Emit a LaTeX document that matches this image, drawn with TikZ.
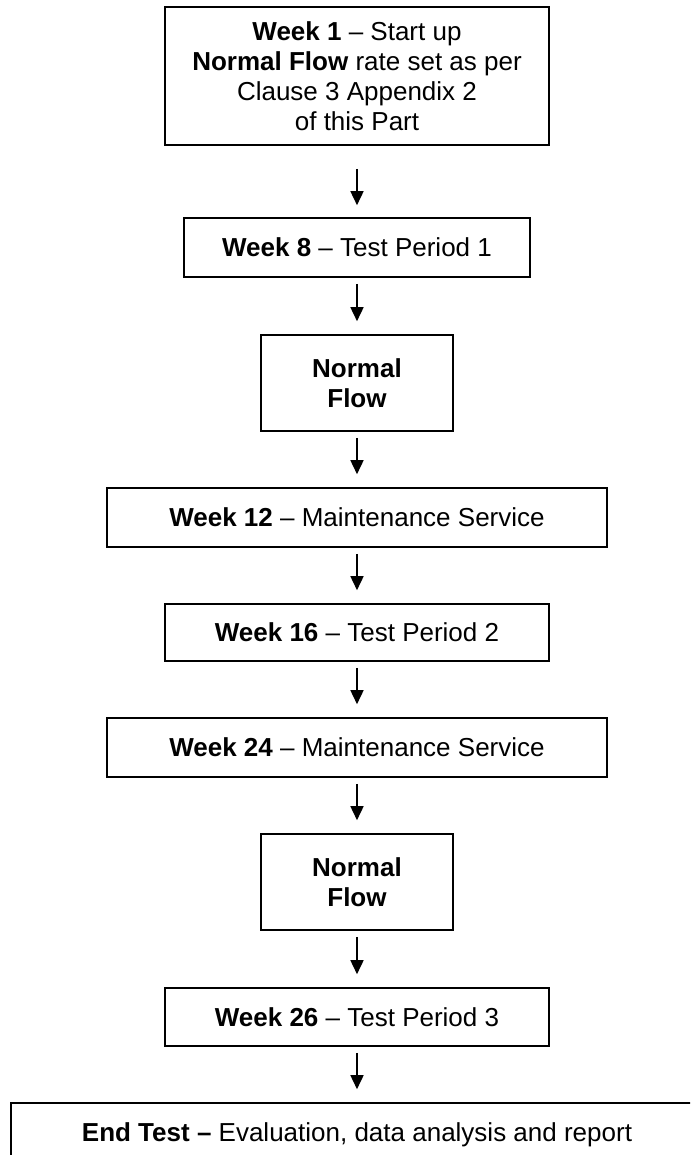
\documentclass[tikz,border=0pt]{standalone}
\usepackage{fontspec}
\setmainfont{Liberation Sans}
\usetikzlibrary{arrows.meta}
\begin{document}
\begin{tikzpicture}[x=1pt,y=-1pt,
  box/.style={draw=black, line width=1.6pt, inner sep=0pt, align=center,
    font=\fontsize{26}{30}\selectfont},
  arr/.style={line width=1.6pt, -{Triangle[width=13pt,length=14pt]},
    shorten <=6pt, shorten >=13pt}]
\useasboundingbox (0,0) rectangle (690,1155);
\clip (0,0) rectangle (690,1155);
\node[box, minimum width=384pt, minimum height=138pt] (w1) at (357,76)
  {\textbf{Week 1} – Start up\\ \textbf{Normal Flow} rate set as per\\ Clause 3 Appendix 2\\ of this Part};
\node[box, minimum width=346pt, minimum height=59pt] (w8) at (357,247.5)
  {\textbf{Week 8} – Test Period 1};
\node[box, minimum width=192pt, minimum height=96pt] (nf1) at (357,383)
  {\textbf{Normal}\\ \textbf{Flow}};
\node[box, minimum width=500pt, minimum height=59pt] (w12) at (357,517.5)
  {\textbf{Week 12} – Maintenance Service};
\node[box, minimum width=384pt, minimum height=57pt] (w16) at (357,632.5)
  {\textbf{Week 16} – Test Period 2};
\node[box, minimum width=500pt, minimum height=59pt] (w24) at (357,747.5)
  {\textbf{Week 24} – Maintenance Service};
\node[box, minimum width=192pt, minimum height=96pt] (nf2) at (357,882)
  {\textbf{Normal}\\ \textbf{Flow}};
\node[box, minimum width=384pt, minimum height=58pt] (w26) at (357,1017)
  {\textbf{Week 26} – Test Period 3};
\node[box, minimum width=692pt, minimum height=59pt, text depth=0pt] (end) at (357,1132.5)
  {\textbf{End Test –} Evaluation, data analysis and report};
\draw[arr, shorten <=23pt, shorten >=12pt] (w1) -- (w8);
\draw[arr] (w8) -- (nf1);
\draw[arr] (nf1) -- (w12);
\draw[arr] (w12) -- (w16);
\draw[arr] (w16) -- (w24);
\draw[arr] (w24) -- (nf2);
\draw[arr] (nf2) -- (w26);
\draw[arr] (w26) -- (end);
\end{tikzpicture}
\end{document}
